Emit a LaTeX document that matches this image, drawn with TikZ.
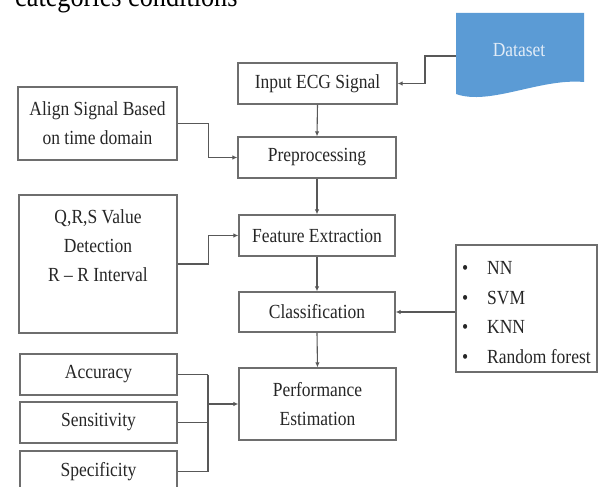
\documentclass[tikz,border=0pt]{standalone}
\usepackage{fontspec}
\setmainfont{Liberation Serif}[FakeStretch=0.875]
\usetikzlibrary{arrows.meta}
\definecolor{boxgray}{HTML}{6E6E6E}
\definecolor{linegray}{HTML}{585858}
\definecolor{txtgray}{HTML}{262626}
\definecolor{dsblue}{HTML}{5B9BD5}
\definecolor{dstext}{HTML}{E2ECF7}
\begin{document}
\begin{tikzpicture}[x=1pt,y=-1pt,
  box/.style={draw=boxgray,line width=1.3pt,rectangle,inner sep=0pt,text=txtgray,
    font=\fontsize{20}{29}\selectfont,align=center},
  conn/.style={draw=linegray,line width=1.1pt},
  arr/.style={conn,-{Latex[length=5pt,width=4.5pt]}}]
\useasboundingbox (0,0) rectangle (598,487);
\clip (0,0) rectangle (598,487);
% caption fragment at top
\node[anchor=base west,inner sep=0pt,font=\fontsize{30}{32}\selectfont,text=black] (cap) at (15,7) {categories conditions};
% dataset document shape
\fill[dsblue] (456,13) -- (584,13) -- (584,82) .. controls (540,78) and (490,106) .. (456,94) -- cycle;
\node[inner sep=0pt,text=dstext,font=\fontsize{20}{22}\selectfont] (dataset) at (519,50) {Dataset};
\coordinate (dsin) at (456,56);
% main column
\node[box,minimum width=159pt,minimum height=41pt] (input) at (317.5,83.5) {Input ECG Signal};
\node[box,minimum width=158pt,minimum height=41pt] (pre) at (317,157.5) {Preprocessing};
\node[box,minimum width=156pt,minimum height=41pt] (feat) at (317,235.5) {Feature Extraction};
\node[box,minimum width=156pt,minimum height=40pt] (cls) at (317,312) {Classification};
\node[box,minimum width=157pt,minimum height=72pt] (perf) at (317.5,404) {Performance\\Estimation};
% left column
\node[box,minimum width=159pt,minimum height=73pt] (align) at (97.5,123.5) {Align Signal Based\\on time domain};
\node[box,minimum width=158pt,minimum height=138pt] (qrs) at (98,264) {Q,R,S Value\\Detection\\R -- R Interval\\\strut};
\node[box,minimum width=157pt,minimum height=41pt] (acc) at (98.5,374.5) {Accuracy};
\node[box,minimum width=157pt,minimum height=41pt] (sens) at (98.5,422.5) {Sensitivity};
\node[box,minimum width=157pt,minimum height=41pt] (spec) at (98.5,471.5) {Specificity};
% classifier list
\node[draw=boxgray,line width=1.3pt,rectangle,inner sep=0pt,minimum width=141pt,minimum height=127pt] (list) at (526.5,308.5) {};
\node[anchor=west,inner sep=0pt,align=left,text=txtgray,font=\fontsize{20}{29.5}\selectfont] (listtext) at (462,312.5)
  {\makebox[25pt][l]{\textbullet}NN\\\makebox[25pt][l]{\textbullet}SVM\\\makebox[25pt][l]{\textbullet}KNN\\\makebox[25pt][l]{\textbullet}Random forest};
% connectors
\draw[arr] (dsin) -- ++(-31,0) |- (input.east);
\draw[arr] (input.south) -- (pre.north);
\draw[arr] (pre.south) -- (feat.north);
\draw[arr] (feat.south) -- (cls.north);
\draw[arr] (cls.south) -- (perf.north);
\draw[arr] (align.east) -- ++(31,0) |- (pre.west);
\draw[arr] (qrs.east) -- ++(31,0) |- (feat.west);
\draw[arr] (cls.east -| list.west) -- (cls.east);
\coordinate (bus) at (208,404);
\draw[conn] (acc.east) -- (acc.east -| bus);
\draw[conn] (sens.east) -- (sens.east -| bus);
\draw[conn] (spec.east) -- (spec.east -| bus);
\draw[conn] (acc.east -| bus) -- (spec.east -| bus);
\draw[arr] (bus) -- (bus -| perf.west);
\end{tikzpicture}
\end{document}
